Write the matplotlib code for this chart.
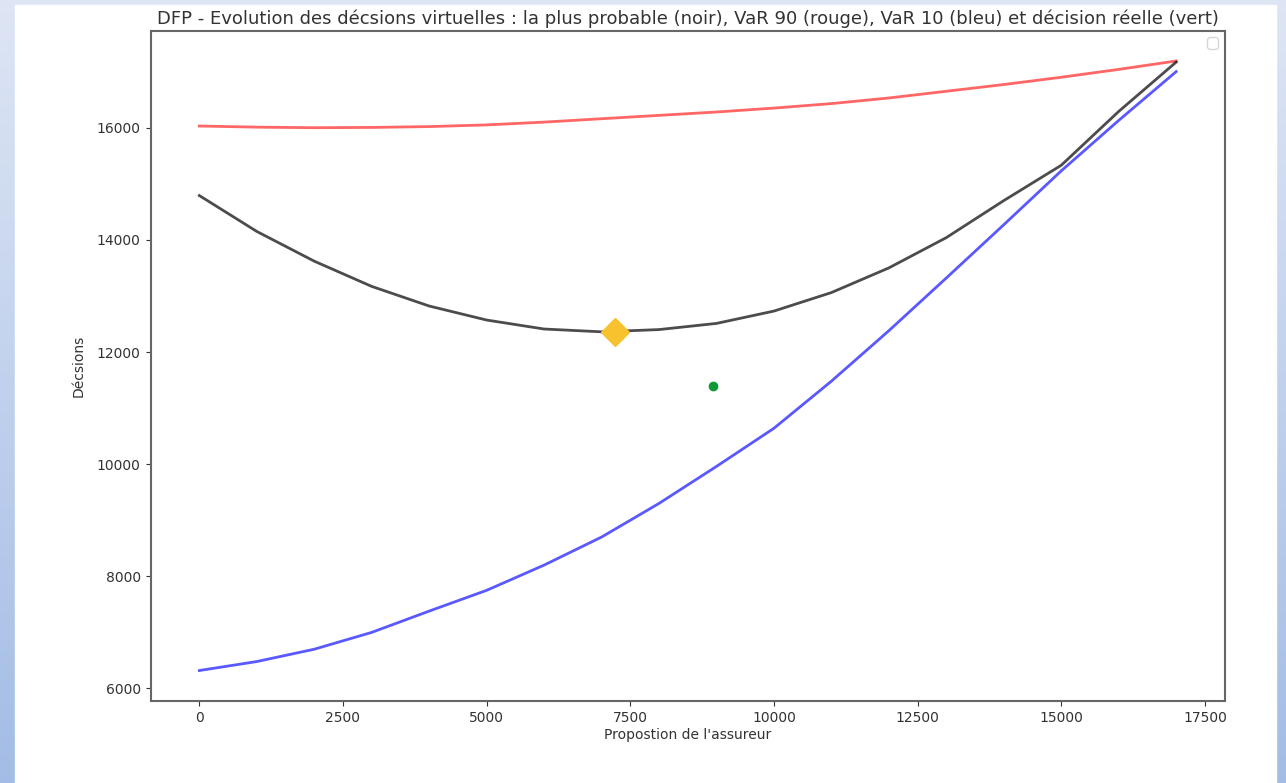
import numpy as np
import matplotlib
matplotlib.use("Agg")
import matplotlib.pyplot as plt
from matplotlib.patches import Rectangle

# propositions de l'assureur
x = [0, 1000, 2000, 3000, 4000, 5000, 6000, 7000, 8000, 9000,
     10000, 11000, 12000, 13000, 14000, 15000, 16000, 17000]

# decision la plus probable (noir)
probable = [14790, 14150, 13620, 13170, 12820, 12570, 12410, 12360, 12400, 12510,
            12730, 13060, 13500, 14040, 14700, 15330, 16290, 17170]
# VaR 90 (rouge)
var90 = [16030, 16010, 16000, 16005, 16020, 16050, 16100, 16160, 16220, 16280,
         16350, 16430, 16530, 16650, 16770, 16900, 17040, 17190]
# VaR 10 (bleu)
var10 = [6320, 6480, 6700, 7000, 7380, 7750, 8200, 8700, 9300, 9960,
         10640, 11480, 12380, 13320, 14270, 15230, 16130, 17000]

# point optimal et decision reelle
opt_x, opt_y = 7230, 12360
reel_x, reel_y = 8940, 11400

W, H = 1286, 783
fig = plt.figure(figsize=(W / 100, H / 100), dpi=100)

# fond bleu degrade facon diapo
bg = fig.add_axes([0, 0, 1, 1])
grad = np.linspace(0, 1, 256).reshape(-1, 1)
top = np.array([0.87, 0.90, 0.96])
bot = np.array([0.64, 0.74, 0.90])
img = top[None, None, :] * (1 - grad[:, :, None]) + bot[None, None, :] * grad[:, :, None]
bg.imshow(img, aspect="auto", extent=[0, 1, 0, 1])
bg.add_patch(Rectangle((15 / W, 0), (1276 - 15) / W, (H - 5) / H, color="white"))
bg.set_xlim(0, 1)
bg.set_ylim(0, 1)
bg.axis("off")

ax = fig.add_axes([150.5 / W, (H - 701) / H, (1225 - 150.5) / W, (701 - 30.5) / H])
ax.plot(x, var90, color="red", alpha=0.6, lw=2)
ax.plot(x, probable, color="black", alpha=0.7, lw=2)
ax.plot(x, var10, color="blue", alpha=0.65, lw=2)
ax.plot(opt_x, opt_y, marker="D", color="#f8c12e", ms=14, ls="none")
ax.plot(reel_x, reel_y, marker="o", color="#109a35", ms=6, ls="none")

ax.set_title("DFP - Evolution des décsions virtuelles : la plus probable (noir), "
             "VaR 90 (rouge), VaR 10 (bleu) et décision réelle (vert)",
             fontsize=13, color="#333333", pad=5)
ax.set_xlabel("Propostion de l'assureur", fontsize=10, color="#333333", labelpad=2)
ax.set_ylabel("Décsions", fontsize=10, color="#333333", labelpad=8)
ax.tick_params(labelsize=10, colors="#333333")
for s in ax.spines.values():
    s.set_color("#666666")
    s.set_linewidth(1.5)
ax.legend(handles=[], loc="upper right")

fig.savefig("out.png", dpi=100)
